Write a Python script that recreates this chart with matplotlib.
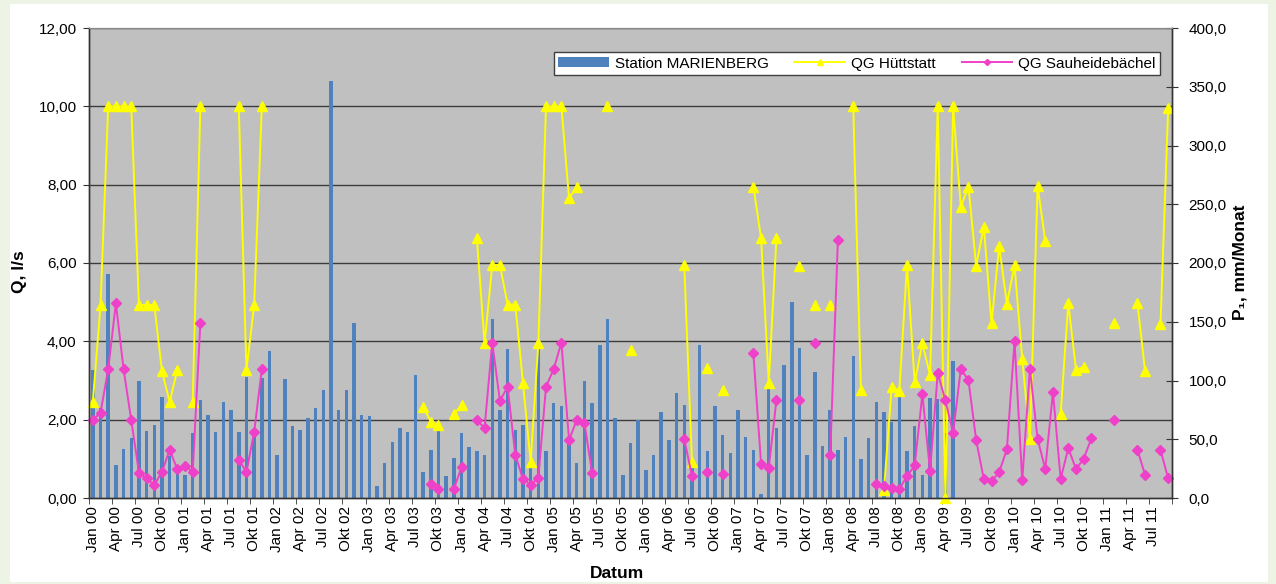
import matplotlib.pyplot as plt
import numpy as np
from matplotlib.patches import Rectangle
from matplotlib.ticker import FuncFormatter

plt.rcParams["font.family"] = ["Liberation Sans", "DejaVu Sans"]

nan = np.nan

# Monatswerte ab Jan 2000 (141 Monate bis Sep 2011)
months = ["Jan", "Apr", "Jul", "Okt"]

# Niederschlag Station MARIENBERG, mm/Monat (Jan 2000 - Mai 2009)
precip_marienberg = [
    109, 77, 191, 28, 42, 51, 100, 57, 62, 86, 36, 28,
    20, 55, 83, 71, 56, 82, 75, 56, 103, 52, 102, 125,
    37, 101, 61, 58, 68, 77, 92, 355, 75, 92, 149, 71,
    70, 10, 30, 48, 60, 56, 105, 22, 41, 60, 19, 34,
    55, 43, 40, 37, 152, 75, 127, 58, 62, 30, 130, 40,
    81, 78, 52, 30, 100, 81, 130, 152, 68, 20, 47, 66,
    24, 37, 73, 49, 89, 79, 32, 130, 40, 78, 54, 38,
    75, 52, 41, 3, 96, 60, 113, 167, 128, 37, 107, 44,
    75, 41, 52, 121, 33, 51, 82, 73, 65, 86, 40, 61,
    20, 85, 84, 55, 117,
]

# Schuettung QG Huettstatt, l/s
q_huettstatt = [
    2.46, 4.93, 10.0, 10.0, 10.0, 10.0, 4.93, 4.93, 4.93, 3.23, 2.46, 3.27,
    nan, 2.46, 10.0, nan, nan, nan, nan, 10.0, 3.27, 4.93, 10.0, nan,
    nan, nan, nan, nan, nan, nan, nan, nan, nan, nan, nan, nan,
    nan, nan, nan, nan, nan, nan, nan, 2.33, 1.95, 1.86, nan, 2.14,
    2.37, nan, 6.63, 3.95, 5.95, 5.95, 4.94, 4.94, 2.94, 0.93, 3.95, 10.0,
    10.0, 10.0, 7.65, 7.95, nan, nan, nan, 10.0, nan, nan, 3.78, nan,
    nan, nan, nan, nan, nan, 5.95, 0.93, nan, 3.31, nan, 2.77, nan,
    nan, nan, 7.95, 6.63, 2.94, 6.63, nan, nan, 5.93, nan, 4.94, nan,
    4.94, nan, nan, 10.0, 2.76, nan, nan, 0.2, 2.84, 2.74, 5.95, 2.95,
    3.95, 3.14, 10.0, 0.0, 10.0, 7.44, 7.95, 5.93, 6.93, 4.46, 6.43, 4.96,
    5.94, 3.55, 1.5, 7.97, 6.55, nan, 2.14, 4.97, 3.27, 3.35, nan, nan,
    nan, 4.47, nan, nan, 4.97, 3.23, nan, 4.44, 9.95,
]

# Schuettung QG Sauheidebaechel, l/s
q_sauheide = [
    1.99, 2.18, 3.29, 4.97, 3.29, 1.99, 0.65, 0.50, 0.33, 0.67, 1.23, 0.73,
    0.82, 0.67, 4.48, nan, nan, nan, nan, 0.97, 0.67, 1.68, 3.29, nan,
    nan, nan, nan, nan, nan, nan, nan, nan, nan, nan, nan, nan,
    nan, nan, nan, nan, nan, nan, nan, nan, 0.36, 0.24, nan, 0.23,
    0.79, nan, 1.98, 1.79, 3.97, 2.48, 2.84, 1.10, 0.48, 0.34, 0.52, 2.84,
    3.29, 3.97, 1.48, 1.99, 1.91, 0.65, nan, nan, nan, nan, nan, nan,
    nan, nan, nan, nan, nan, 1.50, 0.56, nan, 0.67, nan, 0.61, nan,
    nan, nan, 3.69, 0.86, 0.77, 2.50, nan, nan, 2.50, nan, 3.97, nan,
    1.10, 6.59, nan, nan, nan, nan, 0.37, 0.31, 0.25, 0.23, 0.56, 0.83,
    2.65, 0.68, 3.19, 2.49, 1.66, 3.29, 3.01, 1.48, 0.48, 0.43, 0.66, 1.24,
    4.0, 0.45, 3.30, 1.51, 0.74, 2.71, 0.49, 1.27, 0.74, 1.0, 1.52, nan,
    nan, 2.0, nan, nan, 1.23, 0.59, nan, 1.23, 0.50,
]

Q_MAX = 12.0
P_MAX = 400.0
n_months = len(q_huettstatt)
x_all = np.arange(n_months)

W, H = 1276, 584
fig = plt.figure(figsize=(W / 100, H / 100), dpi=100)
fig.patch.set_facecolor("#edf3e5")
fig.patches.append(Rectangle((10 / W, 2 / H), 1258 / W, 578 / H,
                             transform=fig.transFigure, facecolor="white",
                             edgecolor="none", zorder=-10))

# Balken-Achse (rechts), Linien auf Zwillingsachse (links)
ax = fig.add_axes([89 / W, 1 - 498 / H, 1083 / W, 470 / H])
ax2 = ax.twinx()
ax.set_facecolor("#c0c0c0")

ax.set_xlim(-0.5, n_months - 0.5)
ax.set_ylim(0, P_MAX)
ax2.set_ylim(0, Q_MAX)

# Gitterlinien der Q-Achse hinter den Balken
for q in np.arange(2, Q_MAX + 1, 2):
    ax.axhline(q * P_MAX / Q_MAX, color="#3c3c3c", lw=1.0, zorder=0.5)

ax.bar(np.arange(len(precip_marienberg)), precip_marienberg, width=0.45,
       color="#4f81bd", zorder=1, label="Station MARIENBERG")

ax2.plot(x_all, q_huettstatt, color="#ffff00", lw=1.4, marker="^", ms=7.5,
         mec="#ffff00", mfc="#ffff00", clip_on=False, label="QG Hüttstatt")
ax2.plot(x_all, q_sauheide, color="#ee40c8", lw=1.4, marker="D", ms=5.2,
         mec="#ee40c8", mfc="#ee40c8", clip_on=False, label="QG Sauheidebächel")

# x-Achse: Beschriftung quartalsweise, Striche zwischen den Kategorien
label_pos = np.arange(0, n_months, 3)
label_txt = [f"{months[(m // 3) % 4]} {(m // 12):02d}" for m in label_pos]
ax.set_xticks(label_pos)
ax.set_xticklabels(label_txt, rotation=90, fontsize=11)
ax.set_xticks(np.arange(-0.5, n_months, 3), minor=True)
ax.tick_params(axis="x", which="major", length=0, pad=6)
ax.tick_params(axis="x", which="minor", length=4, direction="out", color="#333333")

# rechte Achse: Niederschlag
ax.yaxis.tick_right()
ax.set_yticks(np.arange(0, P_MAX + 1, 50))
ax.yaxis.set_major_formatter(FuncFormatter(lambda v, p: f"{v:.1f}".replace(".", ",")))
ax.tick_params(axis="y", direction="inout", length=8, color="#333333",
               labelsize=11, pad=8)

# linke Achse: Schuettung
ax2.yaxis.tick_left()
ax2.set_yticks(np.arange(0, Q_MAX + 1, 2))
ax2.yaxis.set_major_formatter(FuncFormatter(lambda v, p: f"{v:.2f}".replace(".", ",")))
ax2.tick_params(axis="y", direction="out", length=4, color="#333333",
                labelsize=11, pad=5)

for a in (ax, ax2):
    for side in ("left", "bottom", "right"):
        a.spines[side].set_color("#333333")
        a.spines[side].set_linewidth(1.0)
    a.spines["top"].set_color("#8a8a8a")

fig.text(20 / W, 1 - 272 / H, "Q, l/s", rotation=90, ha="center", va="center",
         fontsize=12.5, fontweight="bold")
fig.text(1240 / W, 1 - 262 / H, "P₁, mm/Monat", rotation=90, ha="center",
         va="center", fontsize=12.5, fontweight="bold")
fig.text(617 / W, 1 - 573 / H, "Datum", ha="center", va="center",
         fontsize=12.5, fontweight="bold")

h1, l1 = ax.get_legend_handles_labels()
h2, l2 = ax2.get_legend_handles_labels()
leg = ax2.legend(h1 + h2, l1 + l2, ncol=3, loc="upper right",
                 bbox_to_anchor=(0.989, 0.949), borderaxespad=0, fontsize=11,
                 frameon=True, fancybox=False, framealpha=1, edgecolor="#404040",
                 handlelength=3.3, handleheight=0.6, columnspacing=1.7,
                 borderpad=0.3, markerscale=0.6, handletextpad=0.4)
leg.get_frame().set_linewidth(1.0)

fig.savefig("out.png", dpi=100, facecolor=fig.get_facecolor())
